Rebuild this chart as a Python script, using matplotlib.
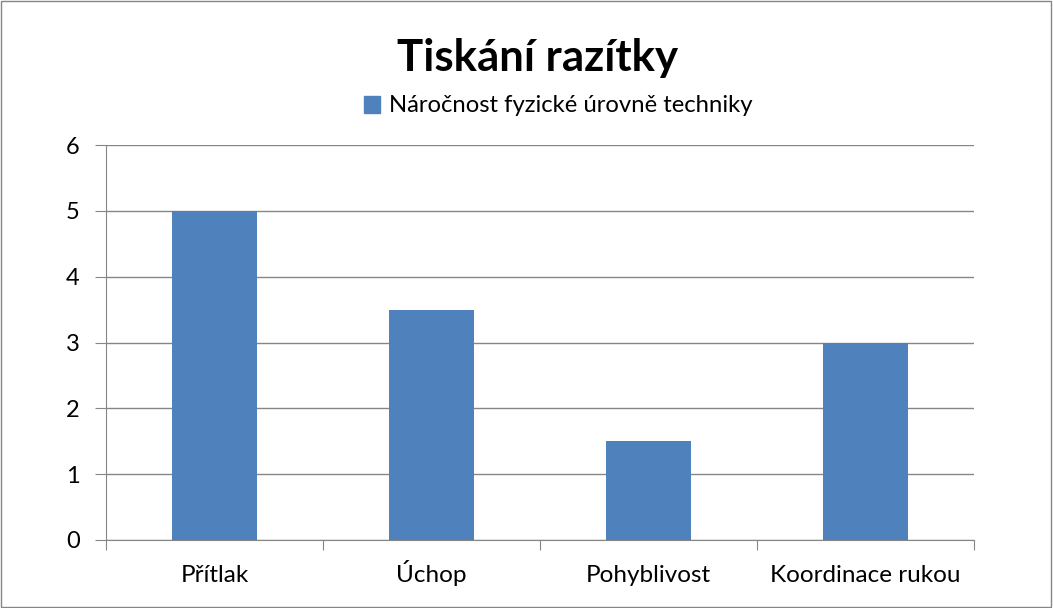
import numpy as np
from matplotlib import pyplot as plt
from matplotlib.patches import Rectangle

categories = ["Přítlak", "Úchop", "Pohyblivost", "Koordinace rukou"]
values = [5, 3.5, 1.5, 3]
series_name = "Náročnost fyzické úrovně techniky"
title_text = "Tiskání razítky"

plt.rcParams['font.family'] = ['Lato', 'DejaVu Sans']

W, H = 1053, 608
fig = plt.figure(figsize=(W / 100, H / 100), dpi=100)
ax = fig.add_axes([106 / W, 1 - 540 / H, 868 / W, 395 / H])

bar_color = "#4F81BD"
grid_color = "#868686"

# --- bars ---
x = np.arange(len(categories))
ax.bar(x, values, width=0.395, color=bar_color, zorder=3)

ax.set_xlim(-0.5, len(categories) - 0.5)
ax.set_ylim(0, 6)
ax.set_yticks(range(0, 7))
ax.yaxis.grid(True, color=grid_color, linewidth=1, zorder=0)

# boundary ticks on x axis, labels drawn as text on a common baseline
ax.set_xticks(np.arange(-0.5, len(categories), 1))
ax.set_xticklabels([])
ax.tick_params(axis='x', length=7, color=grid_color)
ax.tick_params(axis='y', length=8, color=grid_color, labelsize=17, pad=11)
for xi, name in zip(x, categories):
    ax.text(xi, -42 / 395, name, transform=ax.get_xaxis_transform(), ha="center",
            va="baseline", fontsize=17.5)

for side in ["top", "right"]:
    ax.spines[side].set_visible(False)
for side in ["left", "bottom"]:
    ax.spines[side].set_color(grid_color)

# --- title and legend ---
fig.text(538 / W, 1 - 58 / H, title_text, ha="center", va="center",
         fontsize=31.5, fontweight="bold")
fig.legend([Rectangle((0, 0), 1, 1, color=bar_color)], [series_name],
           loc="center", bbox_to_anchor=(558 / W, 1 - 106 / H),
           frameon=False, fontsize=17.2, handlelength=0.7, handleheight=0.7,
           handletextpad=0.35)

# outer border
fig.patches.append(Rectangle((0.001, 0.002), 0.997, 0.996, transform=fig.transFigure,
                             fill=False, edgecolor=grid_color, linewidth=1))

fig.savefig("out.png", dpi=100)
